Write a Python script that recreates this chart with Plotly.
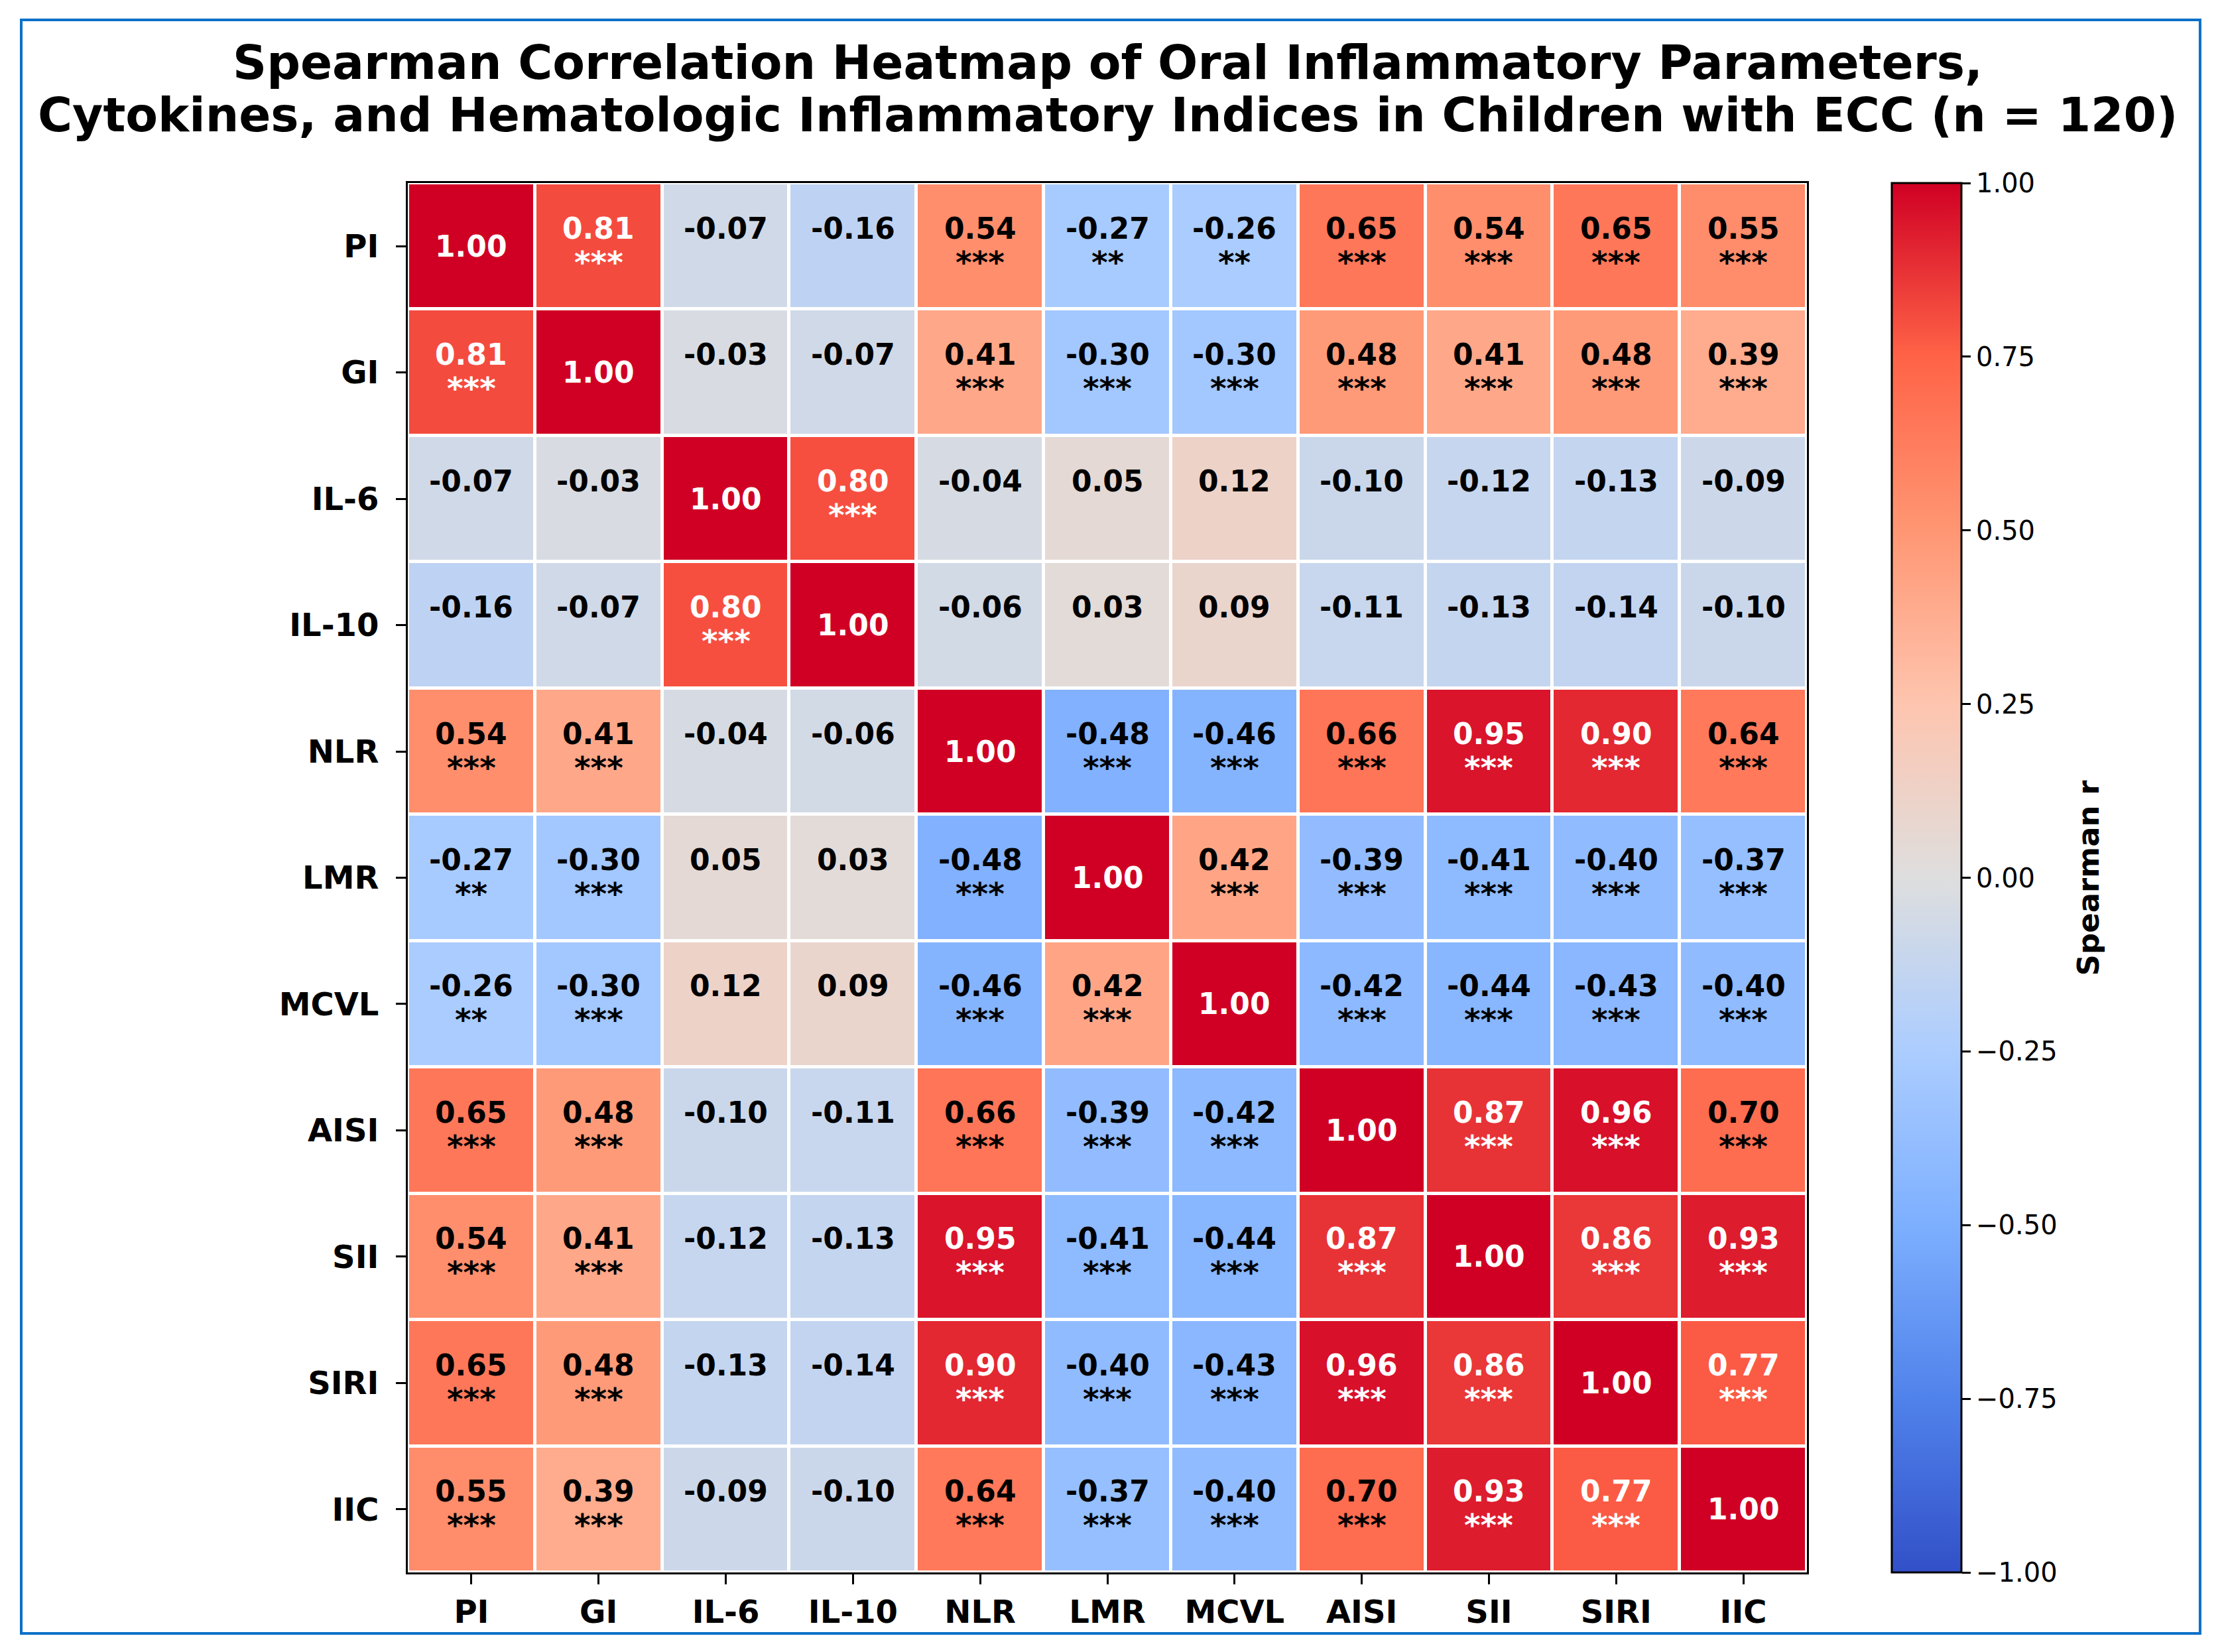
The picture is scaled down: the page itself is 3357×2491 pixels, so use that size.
import plotly.graph_objects as go

# variables (same order on both axes)
labels = ["PI", "GI", "IL-6", "IL-10", "NLR", "LMR", "MCVL", "AISI", "SII", "SIRI", "IIC"]

# Spearman r, row by row
r_values = [
    [1.00, 0.81, -0.07, -0.16, 0.54, -0.27, -0.26, 0.65, 0.54, 0.65, 0.55],
    [0.81, 1.00, -0.03, -0.07, 0.41, -0.30, -0.30, 0.48, 0.41, 0.48, 0.39],
    [-0.07, -0.03, 1.00, 0.80, -0.04, 0.05, 0.12, -0.10, -0.12, -0.13, -0.09],
    [-0.16, -0.07, 0.80, 1.00, -0.06, 0.03, 0.09, -0.11, -0.13, -0.14, -0.10],
    [0.54, 0.41, -0.04, -0.06, 1.00, -0.48, -0.46, 0.66, 0.95, 0.90, 0.64],
    [-0.27, -0.30, 0.05, 0.03, -0.48, 1.00, 0.42, -0.39, -0.41, -0.40, -0.37],
    [-0.26, -0.30, 0.12, 0.09, -0.46, 0.42, 1.00, -0.42, -0.44, -0.43, -0.40],
    [0.65, 0.48, -0.10, -0.11, 0.66, -0.39, -0.42, 1.00, 0.87, 0.96, 0.70],
    [0.54, 0.41, -0.12, -0.13, 0.95, -0.41, -0.44, 0.87, 1.00, 0.86, 0.93],
    [0.65, 0.48, -0.13, -0.14, 0.90, -0.40, -0.43, 0.96, 0.86, 1.00, 0.77],
    [0.55, 0.39, -0.09, -0.10, 0.64, -0.37, -0.40, 0.70, 0.93, 0.77, 1.00],
]

# significance marks ("" = not significant, diagonal left empty)
sig = [
    ["", "***", "", "", "***", "**", "**", "***", "***", "***", "***"],
    ["***", "", "", "", "***", "***", "***", "***", "***", "***", "***"],
    ["", "", "", "***", "", "", "", "", "", "", ""],
    ["", "", "***", "", "", "", "", "", "", "", ""],
    ["***", "***", "", "", "", "***", "***", "***", "***", "***", "***"],
    ["**", "***", "", "", "***", "", "***", "***", "***", "***", "***"],
    ["**", "***", "", "", "***", "***", "", "***", "***", "***", "***"],
    ["***", "***", "", "", "***", "***", "***", "", "***", "***", "***"],
    ["***", "***", "", "", "***", "***", "***", "***", "", "***", "***"],
    ["***", "***", "", "", "***", "***", "***", "***", "***", "", "***"],
    ["***", "***", "", "", "***", "***", "***", "***", "***", "***", ""],
]

cmap = [
    [0.0, "rgb(50,80,200)"],
    [0.125, "rgb(80,130,235)"],
    [0.25, "rgb(125,175,255)"],
    [0.375, "rgb(172,205,255)"],
    [0.5, "rgb(222,222,222)"],
    [0.625, "rgb(254,197,175)"],
    [0.75, "rgb(255,150,115)"],
    [0.875, "rgb(255,99,71)"],
    [1.0, "rgb(208,0,36)"],
]

FONT = "DejaVu Sans"

fig = go.Figure()
fig.add_trace(go.Heatmap(
    z=r_values, x=labels, y=labels,
    zmin=-1, zmax=1, colorscale=cmap,
    xgap=5, ygap=5, hoverongaps=False,
    colorbar=dict(
        x=1.0607, xanchor="left", xpad=0,
        y=0.5, yanchor="middle", len=1.0, lenmode="fraction", ypad=0,
        thickness=105, outlinewidth=3, outlinecolor="black",
        tickvals=[-1, -0.75, -0.5, -0.25, 0, 0.25, 0.5, 0.75, 1],
        tickformat=".2f", ticks="outside", ticklen=13, tickwidth=3, tickcolor="black",
        tickfont=dict(family=FONT, size=40, color="black"),
    ),
))

annotations = []
for i, row in enumerate(labels):
    for j, col in enumerate(labels):
        v = r_values[i][j]
        color = "white" if abs(v) >= 0.75 else "black"
        txt = "%.2f" % v
        if i == j:
            annotations.append(dict(x=col, y=row, text=txt, showarrow=False,
                                    xanchor="center", yanchor="middle",
                                    font=dict(family=FONT, size=44, color=color, weight="bold")))
            continue
        annotations.append(dict(x=col, y=row, text=txt, showarrow=False,
                                xanchor="center", yanchor="middle", yshift=27,
                                font=dict(family=FONT, size=44, color=color, weight="bold")))
        if sig[i][j]:
            annotations.append(dict(x=col, y=row, text=sig[i][j], showarrow=False,
                                    xanchor="center", yanchor="middle", yshift=-24,
                                    font=dict(family=FONT, size=47, color=color, weight="bold")))

# two title lines, placed separately to keep the tight line spacing
title_lines = ["Spearman Correlation Heatmap of Oral Inflammatory Parameters,",
               "Cytokines, and Hematologic Inflammatory Indices in Children with ECC (n = 120)"]
for k, line in enumerate(title_lines):
    annotations.append(dict(xref="paper", yref="paper", x=0.5, y=[1.0864, 1.0487][k],
                            text=line, showarrow=False, xanchor="center", yanchor="middle",
                            font=dict(family=FONT, size=71, color="black", weight="bold")))

# colorbar label
annotations.append(dict(xref="paper", yref="paper", x=1.2014, y=0.5, text="Spearman r",
                        textangle=-90, showarrow=False, xanchor="center", yanchor="middle",
                        font=dict(family=FONT, size=45, color="black", weight="bold")))

axis_common = dict(
    showline=True, linewidth=3, linecolor="black", mirror=True,
    ticks="outside", ticklen=15, tickwidth=3, tickcolor="black",
    showgrid=False, zeroline=False,
    tickfont=dict(family=FONT, size=48, color="black", weight="bold"),
)

fig.update_layout(
    width=3341, height=2475,
    margin=dict(l=607, r=624, t=268, b=112),
    paper_bgcolor="white", plot_bgcolor="white",
    font=dict(family=FONT, color="black"),
    annotations=annotations,
    xaxis=dict(ticklabelstandoff=0, **axis_common),
    yaxis=dict(autorange="reversed", ticklabelstandoff=16, **axis_common),
    shapes=[dict(type="rect", xref="paper", yref="paper",
                 x0=-0.2763, x1=1.2810, y0=-0.0439, y1=1.1174,
                 line=dict(color="#0a70c8", width=4), fillcolor="rgba(0,0,0,0)", layer="below")],
)

fig.write_html("out.html")
